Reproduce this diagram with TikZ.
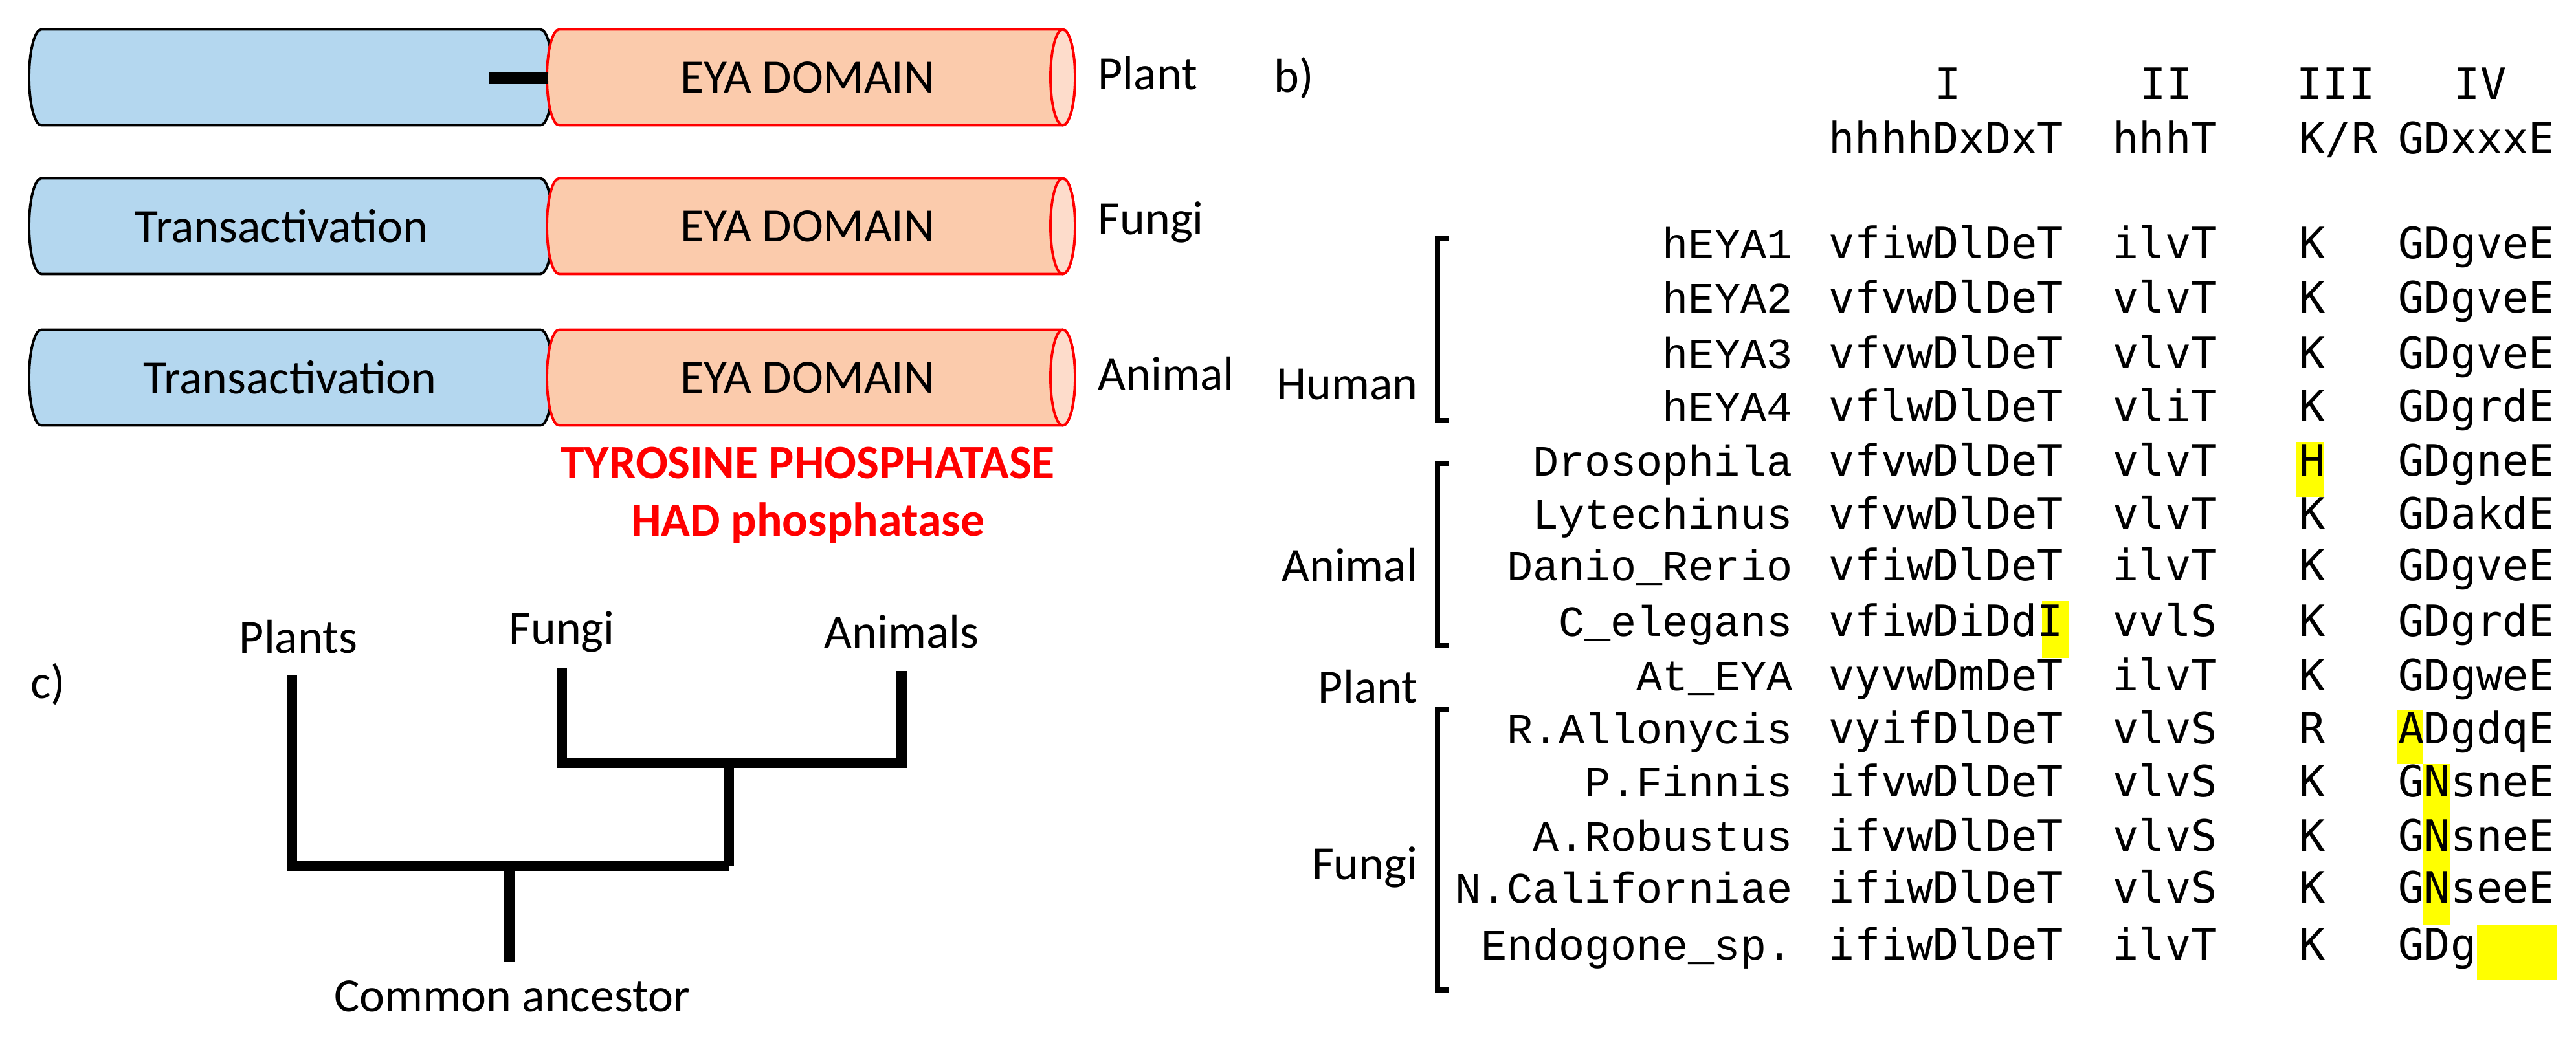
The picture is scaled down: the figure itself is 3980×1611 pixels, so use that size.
\documentclass[tikz,border=0pt]{standalone}
\usepackage{fontspec}
\setmainfont{Carlito}
\newfontfamily\seqf{DejaVu Sans Mono}
\newfontfamily\namef{Liberation Mono}
\definecolor{eya}{HTML}{FBCBAC}
\definecolor{eyaend}{HTML}{FDDCCB}
\definecolor{ta}{HTML}{B4D7EF}
\definecolor{hl}{HTML}{FFFF00}
\begin{document}
\begin{tikzpicture}[x=0.01cm,y=0.01cm,
  lab/.style={font=\fontsize{21}{25}\selectfont, inner sep=0pt},
  red lab/.style={font=\fontsize{21}{25}\selectfont\bfseries, text=red, inner sep=0pt},
  seq/.style={font=\fontsize{19}{23}\seqf, inner sep=0pt, anchor=west, text height=0.72em, text depth=0.2em},
  nm/.style={font=\fontsize{19}{23}\namef, inner sep=0pt, anchor=east, text height=0.72em, text depth=0.2em},
  tree/.style={line width=4.8pt},
  brk/.style={line width=2.3pt},
  eyabody/.style={fill=eya, draw=red, line width=1.1pt},
  tabody/.style={fill=ta, draw=black, line width=1.1pt}]
\useasboundingbox (0,0) rectangle (3980,-1611);

% ---------- panel a ----------
\node[lab] (la) at (77,-121) {a)};
\foreach \row/\mid/\lbl in {p/-119.5/Plant, f/-349.5/Fungi, a/-583.5/Animal}{
  \ifx\row p\else
  \filldraw[tabody] (64,\mid+74) -- (835,\mid+74) arc[start angle=90,end angle=-90,x radius=19,y radius=74] -- (64,\mid-74) arc[start angle=270,end angle=90,x radius=19,y radius=74] -- cycle;
  \fi
  \filldraw[eyabody] (864,\mid+74) -- (1642,\mid+74) arc[start angle=90,end angle=-90,x radius=19,y radius=74] -- (864,\mid-74) arc[start angle=270,end angle=90,x radius=19,y radius=74] -- cycle;
  \filldraw[fill=eyaend, draw=red, line width=1.1pt] (1642,\mid) ellipse[x radius=19, y radius=74];
  \node[lab] (eya\row) at (1248,\mid) {EYA DOMAIN};
  \node[lab, anchor=west] (lbl\row) at (1696,\mid+6) {\lbl};
}
\node[lab] (taf) at (435,-349.5) {Transactivation};
\node[lab] (taa) at (448,-583.5) {Transactivation};
\coordinate (bar) at (755,-120);
\draw[line width=5.4pt] (bar) -- (847,-120);
\node[red lab] (tyr) at (1248,-716) {TYROSINE PHOSPHATASE};
\node[red lab] (had) at (1248,-808) {HAD phosphatase};

% ---------- panel c ----------
\node[lab] (lc) at (74,-1058) {c)};
\node[lab] (tp) at (461,-984) {Plants};
\node[lab] (tf) at (868,-976) {Fungi};
\node[lab] (tan) at (1393,-976) {Animals};
\node[lab] (tca) at (791,-1540) {Common ancestor};
\draw[tree] (451,-1043) -- (451,-1338) -- (1126,-1338);
\draw[tree] (868,-1032) -- (868,-1179) -- (1393,-1179) -- (1393,-1037);
\draw[tree] (1126,-1179) -- (1126,-1338);
\draw[tree] (787,-1338) -- (787,-1487);

% ---------- panel b ----------
\node[lab] (lb) at (1999,-121) {b)};
% highlights
\fill[hl] (3548,-683) rectangle (3590,-768);
\fill[hl] (3155,-929) rectangle (3196,-1017);
\fill[hl] (3704,-1097) rectangle (3744,-1181);
\fill[hl] (3744,-1181) rectangle (3785,-1430);
\fill[hl] (3827,-1430) rectangle (3951,-1515);

\node[seq, anchor=center] (h1) at (3010,-144) {I};
\node[seq, anchor=center] (h2) at (3347,-144) {II};
\node[seq, anchor=center] (h3) at (3609,-144) {III};
\node[seq, anchor=center] (h4) at (3832,-144) {IV};
\node[seq] (m1) at (2825,-228) {hhhhDxDxT};
\node[seq] (m2) at (3264,-228) {hhhT};
\node[seq] (m3) at (3552,-228) {K/R};
\node[seq] (m4) at (3705,-228) {GDxxxE};

\foreach \y/\n/\a/\b/\c/\d [count=\i] in {
  390/hEYA1/vfiwDlDeT/ilvT/K/GDgveE,
  474/hEYA2/vfvwDlDeT/vlvT/K/GDgveE,
  560/hEYA3/vfvwDlDeT/vlvT/K/GDgveE,
  642/hEYA4/vflwDlDeT/vliT/K/GDgrdE,
  726/Drosophila/vfvwDlDeT/vlvT/H/GDgneE,
  808/Lytechinus/vfvwDlDeT/vlvT/K/GDakdE,
  888/Danio\_Rerio/vfiwDlDeT/ilvT/K/GDgveE,
  974/C\_elegans/vfiwDiDdI/vvlS/K/GDgrdE,
  1058/At\_EYA/vyvwDmDeT/ilvT/K/GDgweE,
  1140/R.Allonycis/vyifDlDeT/vlvS/R/ADgdqE,
  1222/P.Finnis/ifvwDlDeT/vlvS/K/GNsneE,
  1306/A.Robustus/ifvwDlDeT/vlvS/K/GNsneE,
  1386/N.Californiae/ifiwDlDeT/vlvS/K/GNseeE,
  1474/Endogone\_sp./ifiwDlDeT/ilvT/K/GDg}{
  \node[nm] (n\i) at (2770,-\y) {\n};
  \node[seq] (s\i a) at (2825,-\y) {\a};
  \node[seq] (s\i b) at (3264,-\y) {\b};
  \node[seq] (s\i c) at (3552,-\y) {\c};
  \node[seq] (s\i d) at (3705,-\y) {\d};
}

\node[lab, anchor=east] (gh) at (2191,-594) {Human};
\node[lab, anchor=east] (ga) at (2191,-873) {Animal};
\node[lab, anchor=east] (gp) at (2191,-1061) {Plant};
\node[lab, anchor=east] (gf) at (2191,-1340) {Fungi};
\draw[brk] (2238,-368) -- (2221,-368) -- (2221,-650) -- (2238,-650);
\draw[brk] (2238,-716) -- (2221,-716) -- (2221,-998) -- (2238,-998);
\draw[brk] (2238,-1097) -- (2221,-1097) -- (2221,-1530) -- (2238,-1530);
\end{tikzpicture}
\end{document}
